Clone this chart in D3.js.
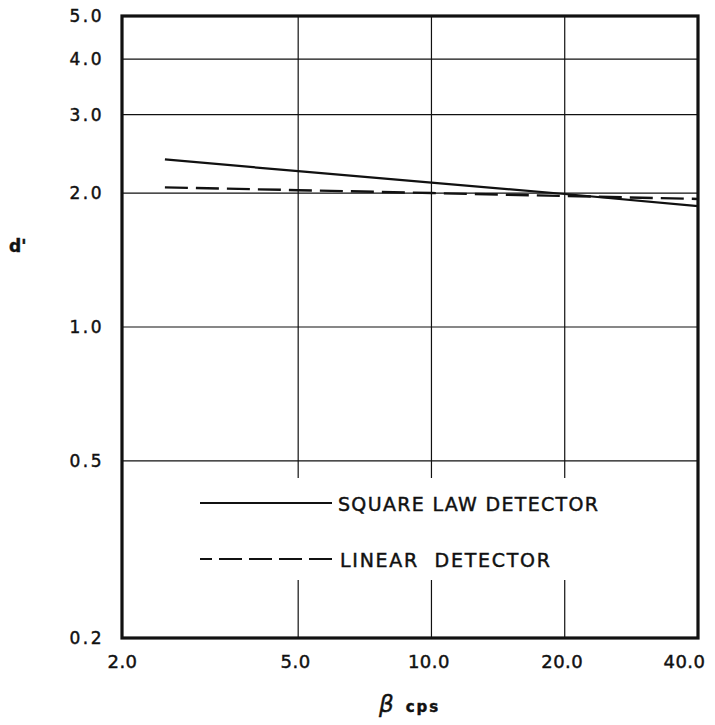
<!DOCTYPE html>
<html>
<head>
<meta charset="utf-8">
<script src="https://cdn.jsdelivr.net/npm/d3@7"></script>
<style>
  html, body { margin: 0; padding: 0; background: #fff; }
  svg { display: block; }
  text { font-family: "DejaVu Sans", "Liberation Sans", sans-serif; fill: #111; stroke: #111; stroke-width: 0.45px; }
</style>
</head>
<body>
<svg id="chart" width="715" height="725"></svg>
<script>
// Bandwidth beta (cps) at which d' was evaluated
const betaValues = [2.5, 5, 10, 20, 40];
// d' for each detector type
const squareLawValues = [2.38, 2.24, 2.11, 1.99, 1.87];
const linearValues = [2.06, 2.03, 2.00, 1.97, 1.94];

const seriesNames = ["SQUARE LAW DETECTOR", "LINEAR  DETECTOR"];

const xTickValues = [2, 5, 10, 20, 40];
const xTickLabels = ["2.0", "5.0", "10.0", "20.0", "40.0"];
const yTickValues = [0.2, 0.5, 1, 2, 3, 4, 5];
const yTickLabels = ["0.2", "0.5", "1.0", "2.0", "3.0", "4.0", "5.0"];
const xGridValues = [5, 10, 20];
const yGridValues = [0.5, 1, 2, 3, 4];

const margin = { left: 122, right: 17, top: 16, bottom: 87 };
const W = 715, H = 725;
const innerW = W - margin.left - margin.right;
const innerH = H - margin.top - margin.bottom;

const svg = d3.select("#chart");
const g = svg.append("g").attr("transform", `translate(${margin.left},${margin.top})`);

const x = d3.scaleLog().domain([2, 40]).range([0, innerW]);
const y = d3.scaleLog().domain([0.2, 5]).range([innerH, 0]);

// grid
g.append("g").selectAll("line").data(xGridValues).join("line")
  .attr("x1", d => x(d)).attr("x2", d => x(d))
  .attr("y1", 0).attr("y2", innerH)
  .attr("stroke", "#111").attr("stroke-width", 1.2);
g.append("g").selectAll("line").data(yGridValues).join("line")
  .attr("x1", 0).attr("x2", innerW)
  .attr("y1", d => y(d)).attr("y2", d => y(d))
  .attr("stroke", "#111").attr("stroke-width", 1.2);

// white panel behind the legend interrupts the vertical grid
g.append("rect")
  .attr("x", 70).attr("y", 462)
  .attr("width", 480).attr("height", 102)
  .attr("fill", "#fff");

// frame
g.append("rect")
  .attr("x", 0).attr("y", 0).attr("width", innerW).attr("height", innerH)
  .attr("fill", "none").attr("stroke", "#111").attr("stroke-width", 3.2);

// axes (labels only)
const xAxis = g.append("g")
  .attr("transform", `translate(0,${innerH})`)
  .call(d3.axisBottom(x).tickValues(xTickValues)
    .tickFormat((d, i) => xTickLabels[i]).tickSize(0).tickPadding(17));
xAxis.select(".domain").remove();
xAxis.selectAll("text")
  .style("font-size", "18px")
  .style("letter-spacing", "0.5px")
  .attr("fill", "#111")
  .attr("dx", (d, i) => i === xTickValues.length - 1 ? -14 : (i === 0 ? 0 : -3));

const yAxis = g.append("g")
  .call(d3.axisLeft(y).tickValues(yTickValues)
    .tickFormat((d, i) => yTickLabels[i]).tickSize(0).tickPadding(18));
yAxis.select(".domain").remove();
yAxis.selectAll("text")
  .style("font-size", "17px")
  .style("letter-spacing", "2.5px")
  .attr("fill", "#111");

// series
const line = d3.line().x(d => x(d[0])).y(d => y(d[1]));
const sqData = betaValues.map((b, i) => [b, squareLawValues[i]]);
const linData = betaValues.map((b, i) => [b, linearValues[i]]);

g.append("path").datum(sqData)
  .attr("d", line).attr("fill", "none")
  .attr("stroke", "#111").attr("stroke-width", 2.2);
g.append("path").datum(linData)
  .attr("d", line).attr("fill", "none")
  .attr("stroke", "#111").attr("stroke-width", 2.4)
  .attr("stroke-dasharray", "23,8");

// legend
const legend = g.append("g");
const legendRows = [
  { y: 487, dash: null, textY: 493, textX: 216, len: 260 },
  { y: 543, dash: "23,7", textY: 549, textX: 218, len: 210 }
];
legendRows.forEach((r, i) => {
  legend.append("line")
    .attr("x1", 78).attr("x2", 210)
    .attr("y1", r.y).attr("y2", r.y)
    .attr("stroke", "#111").attr("stroke-width", 2)
    .attr("stroke-dasharray", r.dash ? "12,7,23,7,23,7,23,7,23,7" : null);
  legend.append("text")
    .attr("x", r.textX).attr("y", r.textY + 2)
    .attr("textLength", r.len).attr("lengthAdjust", "spacing")
    .style("font-size", "19px")
    .style("white-space", "pre")
    .text(seriesNames[i]);
});

// axis titles
const xt = svg.append("text")
  .attr("x", 379).attr("y", 712);
xt.append("tspan").text("β")
  .style("font-size", "23px").style("font-style", "italic");
xt.append("tspan").text("cps")
  .attr("dx", 12)
  .style("font-size", "15px").style("font-weight", "bold")
  .style("letter-spacing", "2px");

svg.append("text")
  .attr("x", 9).attr("y", 252)
  .style("font-size", "17px").style("font-weight", "bold")
  .text("d'");
</script>
</body>
</html>
